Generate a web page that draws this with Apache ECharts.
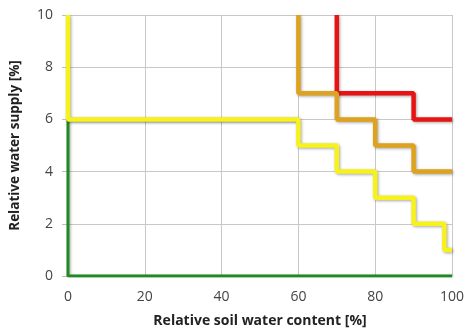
<!DOCTYPE html>
<html>
<head>
<meta charset="utf-8">
<script src="https://cdn.jsdelivr.net/npm/echarts@6/dist/echarts.min.js"></script>
<style>
    html, body { margin: 0; padding: 0; background: #fff; }
    #chart { width: 467px; height: 333px; }
</style>
</head>
<body>
<div id="chart"></div>
<script>
    // step curves as [soil water %, supply %]
    var greenLine = [[0, 6], [0, 0], [100, 0]];
    var greenTop = [[0, 6], [60, 6]];
    var yellowLine = [[0, 10], [0, 6], [60, 6], [60, 5], [70, 5], [70, 4], [80, 4], [80, 3], [90, 3], [90, 2], [98, 2], [98, 1], [100, 1]];
    var orangeLine = [[60, 10], [60, 7], [70, 7], [70, 6], [80, 6], [80, 5], [90, 5], [90, 4], [100, 4]];
    var redLine = [[70, 10], [70, 7], [90, 7], [90, 6], [100, 6]];
    var xTicks = [0, 20, 40, 60, 80, 100];
    var yTicks = [0, 2, 4, 6, 8, 10];

    function stepSeries(data, color, width) {
        return {
            type: 'line',
            data: data,
            symbol: 'none',
            silent: true,
            lineStyle: {
                color: color,
                width: width,
                shadowColor: 'rgba(0,0,0,0.35)',
                shadowBlur: 3,
                shadowOffsetX: 1,
                shadowOffsetY: 1
            }
        };
    }

    var chart = echarts.init(document.getElementById('chart'));
    chart.setOption({
        animation: false,
        grid: { left: 67, right: 13, top: 15, bottom: 56 },
        xAxis: {
            type: 'value',
            min: 0, max: 100, interval: 20,
            name: 'Relative soil water content [%]',
            nameLocation: 'middle',
            nameGap: 38,
            nameTextStyle: { fontFamily: 'Open Sans', fontWeight: 'bold', fontSize: 14, color: '#222' },
            axisLine: { show: false },
            axisTick: { show: false },
            axisLabel: { fontFamily: 'Open Sans', fontSize: 14, color: '#444', margin: 14 },
            splitLine: { lineStyle: { color: '#c8c8c8', width: 1 } }
        },
        yAxis: {
            type: 'value',
            min: 0, max: 10, interval: 2,
            name: 'Relative water supply [%]',
            nameLocation: 'middle',
            nameGap: 46,
            nameTextStyle: { fontFamily: 'Open Sans', fontWeight: 'bold', fontSize: 13.5, color: '#222' },
            axisLine: { show: false },
            axisTick: { show: true, length: 6, lineStyle: { color: '#bbb' } },
            axisLabel: { fontFamily: 'Open Sans', fontSize: 14, color: '#444', margin: 15 },
            splitLine: { lineStyle: { color: '#c8c8c8', width: 1 } }
        },
        series: [
            stepSeries(greenLine, '#1f8a1f', 3),
            stepSeries(greenTop, '#1f8a1f', 3),
            stepSeries(redLine, '#e81414', 4.5),
            stepSeries(orangeLine, '#dea21e', 4.5),
            stepSeries(yellowLine, '#f7f21c', 4.5)
        ]
    });
</script>
</body>
</html>
